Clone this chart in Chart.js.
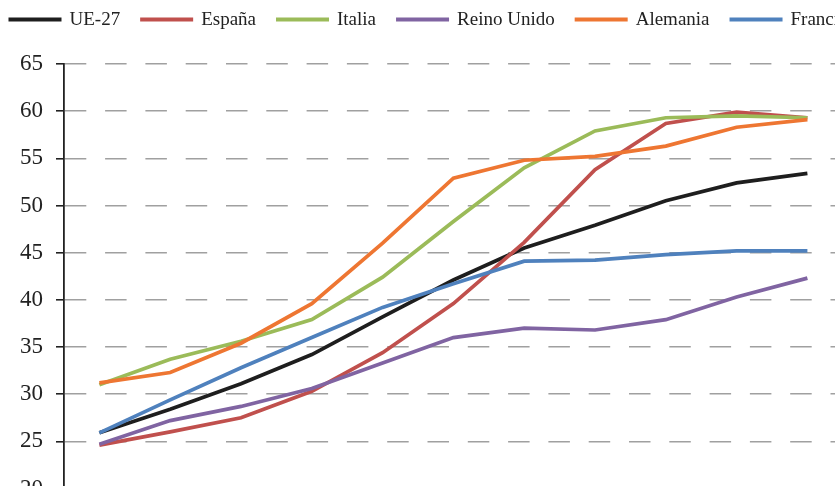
<!DOCTYPE html>
<html>
<head>
<meta charset="utf-8">
<script src="https://cdn.jsdelivr.net/npm/chart.js@4.4.0/dist/chart.umd.min.js"></script>
<style>
  html, body { margin: 0; padding: 0; background: #ffffff; overflow: hidden; width: 835px; height: 486px; }
  #wrap { position: relative; width: 856px; height: 530px; }
</style>
</head>
<body>
<div id="wrap"><canvas id="c" width="856" height="530"></canvas></div>
<script>
// Categories (years) and series values, in %
const years = ['2000', '2001', '2002', '2003', '2004', '2005', '2006', '2007', '2008', '2009', '2010'];
const ue27       = [25.9, 28.4, 31.1, 34.2, 38.2, 42.1, 45.5, 47.9, 50.5, 52.4, 53.4];
const espana     = [24.6, 26.0, 27.5, 30.3, 34.4, 39.6, 46.1, 53.8, 58.7, 59.9, 59.3];
const italia     = [31.0, 33.7, 35.6, 37.9, 42.4, 48.3, 54.0, 57.9, 59.3, 59.5, 59.3];
const reinoUnido = [24.7, 27.2, 28.7, 30.6, 33.3, 36.0, 37.0, 36.8, 37.9, 40.3, 42.3];
const alemania   = [31.2, 32.3, 35.4, 39.6, 46.0, 52.9, 54.8, 55.2, 56.3, 58.3, 59.1];
const francia    = [25.9, 29.4, 32.8, 36.0, 39.2, 41.7, 44.1, 44.2, 44.8, 45.2, 45.2];
const yTicks = { min: 20, max: 65, step: 5 };

const seriesNames  = ['UE-27', 'España', 'Italia', 'Reino Unido', 'Alemania', 'Francia'];
const seriesData   = [ue27, espana, italia, reinoUnido, alemania, francia];
const seriesColors = ['#1e1e1e', '#c0504d', '#9bbb59', '#8064a2', '#ee7632', '#4f81bd'];

Chart.defaults.font.family = "'Liberation Serif', 'Times New Roman', serif";
Chart.defaults.color = '#222222';

// Legend drawn as a single row of line samples followed by the series name
const lineLegend = {
  id: 'lineLegend',
  afterDraw(chart, args, opts) {
    const ctx = chart.ctx;
    ctx.save();
    ctx.font = opts.font;
    const items = chart.data.datasets.map(ds => ({
      label: ds.label,
      color: ds.borderColor,
      w: ctx.measureText(ds.label).width
    }));
    const total = items.reduce((s, it) => s + opts.lineLength + opts.textGap + it.w, 0)
                + opts.itemGap * (items.length - 1);
    let x = (chart.width - total) / 2;
    const y = opts.y;
    items.forEach(it => {
      ctx.strokeStyle = it.color;
      ctx.lineWidth = opts.lineWidth;
      ctx.lineCap = 'butt';
      ctx.beginPath();
      ctx.moveTo(x, y);
      ctx.lineTo(x + opts.lineLength, y);
      ctx.stroke();
      x += opts.lineLength + opts.textGap;
      ctx.fillStyle = opts.color;
      ctx.textBaseline = 'middle';
      ctx.textAlign = 'left';
      ctx.fillText(it.label, x, y + 1);
      x += it.w + opts.itemGap;
    });
    ctx.restore();
  }
};

const datasets = seriesNames.map((name, i) => ({
  label: name,
  data: seriesData[i],
  borderColor: seriesColors[i],
  backgroundColor: seriesColors[i],
  borderWidth: 3.7,
  pointRadius: 0,
  tension: 0,
  fill: false,
  order: seriesNames.length - i
}));

new Chart(document.getElementById('c'), {
  type: 'line',
  data: { labels: years, datasets },
  options: {
    responsive: false,
    animation: false,
    devicePixelRatio: 1,
    layout: { padding: { top: 64, right: 13.2, left: 0, bottom: 0 } },
    plugins: {
      legend: { display: false },
      tooltip: { enabled: false },
      lineLegend: {
        font: "19px 'Liberation Serif', 'Times New Roman', serif",
        color: '#222222',
        lineLength: 53,
        lineWidth: 4,
        textGap: 8,
        itemGap: 20,
        y: 19.5
      }
    },
    scales: {
      x: {
        type: 'category',
        offset: true,
        grid: { display: false },
        border: { display: true, color: '#222222', width: 1.8 },
        ticks: { font: { size: 20 }, color: '#222222' },
        afterFit(scale) { scale.height = 41.5; }
      },
      y: {
        min: yTicks.min,
        max: yTicks.max,
        ticks: { stepSize: yTicks.step, font: { size: 23 }, color: '#222222', padding: 13 },
        grid: {
          color: '#a0a0a0',
          lineWidth: 1.6,
          tickLength: 8,
          tickColor: '#222222',
          tickWidth: 1.6,
          tickBorderDash: []
        },
        border: { display: true, color: '#222222', width: 1.8, dash: [21.5, 18.8] },
        afterFit(scale) { scale.width = 64; }
      }
    }
  },
  plugins: [lineLegend]
});
</script>
</body>
</html>
